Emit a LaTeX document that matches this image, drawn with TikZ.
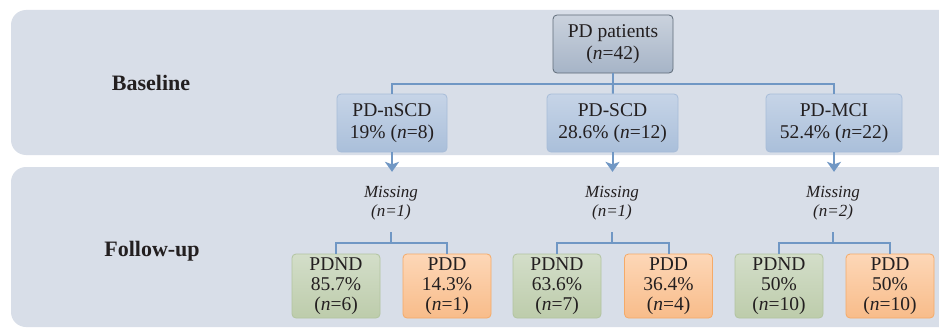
\documentclass[tikz,border=0pt]{standalone}
\usepackage{fontspec}
\setmainfont{Liberation Serif}
\usetikzlibrary{arrows.meta,positioning}

\definecolor{panelbg}{HTML}{D8DEE8}
\definecolor{linkblue}{HTML}{7097C4}
\definecolor{txt}{HTML}{231F20}
\definecolor{topedge}{HTML}{5F6B78}
\definecolor{toptop}{HTML}{CAD2DD}
\definecolor{topbot}{HTML}{A6B4C7}
\definecolor{grpedge}{HTML}{A7BCD8}
\definecolor{grptop}{HTML}{C6D4E7}
\definecolor{grpbot}{HTML}{AABFDA}
\definecolor{ndedge}{HTML}{B2C4A0}
\definecolor{ndtop}{HTML}{D3DEC9}
\definecolor{ndbot}{HTML}{BDCCAB}
\definecolor{ddedge}{HTML}{F5AA68}
\definecolor{ddtop}{HTML}{FDD7B7}
\definecolor{ddbot}{HTML}{F8BC8A}

\begin{document}
\begin{tikzpicture}[
    x=1pt, y=-1pt,
    every node/.style={
        text=txt,
        align=center,
        inner sep=2pt
    },
    panel/.style={fill=panelbg, rounded corners=15pt},
    stage/.style={font=\fontsize{22}{24}\selectfont\bfseries},
    topbox/.style={
        draw=topedge, line width=0.8pt, rounded corners=4pt,
        top color=toptop, bottom color=topbot,
        minimum width=120pt, minimum height=58pt,
        font=\fontsize{19.5}{22}\selectfont
    },
    grpbox/.style={
        draw=grpedge, line width=0.8pt, rounded corners=4pt,
        top color=grptop, bottom color=grpbot,
        minimum height=58pt,
        font=\fontsize{19.5}{22}\selectfont
    },
    ndbox/.style={
        draw=ndedge, line width=0.8pt, rounded corners=4pt,
        top color=ndtop, bottom color=ndbot,
        minimum width=88pt, minimum height=64pt,
        font=\fontsize{19.5}{20}\selectfont
    },
    ddbox/.style={ndbox, draw=ddedge, top color=ddtop, bottom color=ddbot},
    miss/.style={font=\fontsize{17}{19}\selectfont\itshape},
    link/.style={draw=linkblue, line width=2pt},
    arr/.style={link, -{Stealth[width=14pt,length=10pt,inset=2.5pt]}, shorten >=12pt}
]
\useasboundingbox (0,0) rectangle (939,329);
\clip (0,0) rectangle (939,329);
\fill[white] (0,0) rectangle (939,329);
\path[panel] (11,10) rectangle (960,155);
\path[panel] (11,167) rectangle (960,327);

\node[stage] (base) at (151,83) {Baseline};
\node[stage] (follow) at (152,251) {Follow-up};

\node[topbox] (pd) at (613,44) {PD patients\\(\textit{n}=42)};

\node[grpbox, minimum width=110pt] (nscd) at (392,123) {PD-nSCD\\19\% (\textit{n}=8)};
\node[grpbox, minimum width=131pt] (scd) at (612.5,123) {PD-SCD\\28.6\% (\textit{n}=12)};
\node[grpbox, minimum width=136pt] (mci) at (834,123) {PD-MCI\\52.4\% (\textit{n}=22)};

\coordinate (j0) at (613,84);
\draw[link] (pd) -- (j0) -| (nscd);
\draw[link] (j0) -| (mci);
\draw[link] (j0) -- (scd);

\node[miss] (m1) at (391,203) {Missing\\(n=1)};
\node[miss] (m2) at (612,203) {Missing\\(n=1)};
\node[miss] (m3) at (833,203) {Missing\\(n=2)};

\draw[arr] (nscd.south) -- (m1.north -| nscd.south);
\draw[arr] (scd.south) -- (m2.north -| scd.south);
\draw[arr] (mci.south) -- (m3.north -| mci.south);

\node[ndbox] (nd1) at (336,286) {PDND\\85.7\%\\(\textit{n}=6)};
\node[ddbox] (dd1) at (447,286) {PDD\\14.3\%\\(\textit{n}=1)};
\node[ndbox] (nd2) at (557,286) {PDND\\63.6\%\\(\textit{n}=7)};
\node[ddbox] (dd2) at (668.5,286) {PDD\\36.4\%\\(\textit{n}=4)};
\node[ndbox] (nd3) at (779,286) {PDND\\50\%\\(\textit{n}=10)};
\node[ddbox] (dd3) at (890,286) {PDD\\50\%\\(\textit{n}=10)};

\coordinate (s1) at (391,232);
\coordinate (j1) at (391,243);
\draw[link] (s1) -- (j1) -| (nd1);
\draw[link] (j1) -| (dd1);
\coordinate (s2) at (612,232);
\coordinate (j2) at (612,243);
\draw[link] (s2) -- (j2) -| (nd2);
\draw[link] (j2) -| (dd2);
\coordinate (s3) at (833,232);
\coordinate (j3) at (833,243);
\draw[link] (s3) -- (j3) -| (nd3);
\draw[link] (j3) -| (dd3);
\end{tikzpicture}
\end{document}
